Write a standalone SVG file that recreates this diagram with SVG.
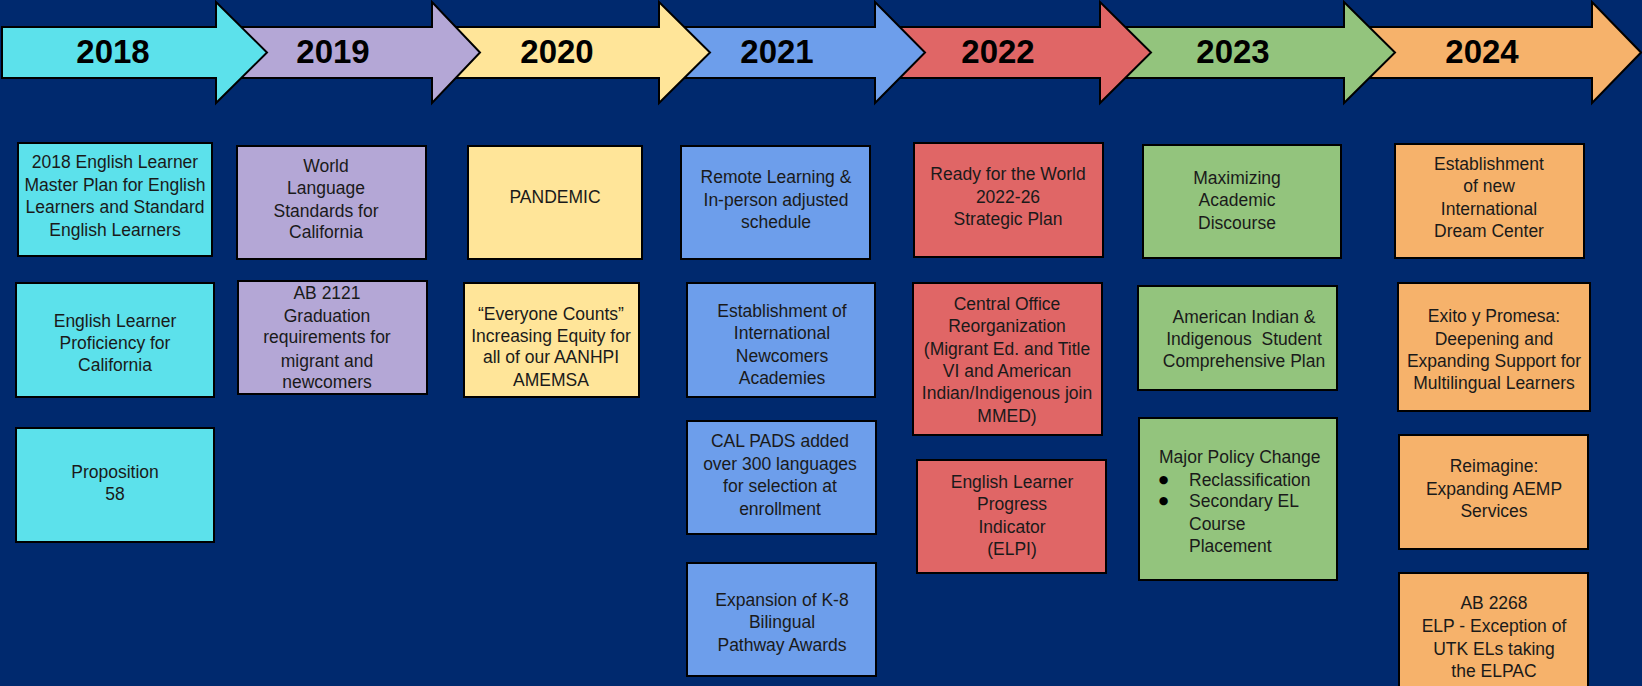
<svg xmlns="http://www.w3.org/2000/svg" width="1642" height="686" viewBox="0 0 1642 686">
<style>
.arrow{stroke:#000;stroke-width:2;stroke-linejoin:miter}
.year{font-family:"Liberation Sans",Arial,sans-serif;font-weight:bold;font-size:33px;fill:#000;text-anchor:middle}
.box{stroke:#000;stroke-width:2}
.t{font-family:"Liberation Sans",Arial,sans-serif;font-size:17.5px;fill:#1a1a1a;text-anchor:middle}
.tl{font-family:"Liberation Sans",Arial,sans-serif;font-size:17.5px;fill:#1a1a1a}
.bul{font-family:"DejaVu Sans",sans-serif;font-size:11px;fill:#000;text-anchor:middle}
.c18{fill:#5ce1eb}.c19{fill:#b4a7d6}.c20{fill:#ffe599}.c21{fill:#6d9eeb}.c22{fill:#e06666}.c23{fill:#93c47d}.c24{fill:#f6b26b}
</style>
<rect x="0" y="0" width="1642" height="686" fill="#00296e"/>
<g id="timeline">
<g id="arrow-2024"><polygon class="arrow c24" points="1344,27 1592,27 1592,2 1641,52.5 1592,103 1592,78 1344,78"/><text class="year" x="1482" y="63">2024</text></g>
<g id="arrow-2023"><polygon class="arrow c23" points="1100,27 1344,27 1344,2 1395,52.5 1344,103 1344,78 1100,78"/><text class="year" x="1233" y="63">2023</text></g>
<g id="arrow-2022"><polygon class="arrow c22" points="875,27 1100,27 1100,2 1151,52.5 1100,103 1100,78 875,78"/><text class="year" x="998" y="63">2022</text></g>
<g id="arrow-2021"><polygon class="arrow c21" points="659,27 875,27 875,2 925,52.5 875,103 875,78 659,78"/><text class="year" x="777" y="63">2021</text></g>
<g id="arrow-2020"><polygon class="arrow c20" points="432,27 659,27 659,2 710,52.5 659,103 659,78 432,78"/><text class="year" x="557" y="63">2020</text></g>
<g id="arrow-2019"><polygon class="arrow c19" points="216,27 432,27 432,2 480,52.5 432,103 432,78 216,78"/><text class="year" x="333" y="63">2019</text></g>
<g id="arrow-2018"><polygon class="arrow c18" points="2,27 216,27 216,2 267,52.5 216,103 216,78 2,78"/><text class="year" x="113" y="63">2018</text></g>
</g>

<g id="n2018-1"><rect class="box c18" x="18" y="143" width="194" height="113"/>
<text class="t" x="115"><tspan x="115" y="168">2018 English Learner</tspan><tspan x="115" y="191">Master Plan for English</tspan><tspan x="115" y="213">Learners and Standard</tspan><tspan x="115" y="236">English Learners</tspan></text></g>
<g id="n2018-2"><rect class="box c18" x="16" y="283" width="198" height="114"/>
<text class="t" x="115"><tspan x="115" y="327">English Learner</tspan><tspan x="115" y="349">Proficiency for</tspan><tspan x="115" y="371">California</tspan></text></g>
<g id="n2018-3"><rect class="box c18" x="16" y="428" width="198" height="114"/>
<text class="t" x="115"><tspan x="115" y="478">Proposition</tspan><tspan x="115" y="500">58</tspan></text></g>

<g id="n2019-1"><rect class="box c19" x="237" y="146" width="189" height="113"/>
<text class="t" x="326"><tspan x="326" y="172">World</tspan><tspan x="326" y="194">Language</tspan><tspan x="326" y="217">Standards for</tspan><tspan x="326" y="238">California</tspan></text></g>
<g id="n2019-2"><rect class="box c19" x="238" y="281" width="189" height="113"/>
<text class="t" x="327"><tspan x="327" y="299">AB 2121</tspan><tspan x="327" y="322">Graduation</tspan><tspan x="327" y="343">requirements for</tspan><tspan x="327" y="367">migrant and</tspan><tspan x="327" y="388">newcomers</tspan></text></g>

<g id="n2020-1"><rect class="box c20" x="468" y="146" width="174" height="113"/>
<text class="t" x="555" y="203">PANDEMIC</text></g>
<g id="n2020-2"><rect class="box c20" x="464" y="283" width="175" height="114"/>
<text class="t" x="551"><tspan x="551" y="320">“Everyone Counts”</tspan><tspan x="551" y="342">Increasing Equity for</tspan><tspan x="551" y="363">all of our AANHPI</tspan><tspan x="551" y="386">AMEMSA</tspan></text></g>

<g id="n2021-1"><rect class="box c21" x="681" y="146" width="189" height="113"/>
<text class="t" x="776"><tspan x="776" y="183">Remote Learning &amp;</tspan><tspan x="776" y="206">In-person adjusted</tspan><tspan x="776" y="228">schedule</tspan></text></g>
<g id="n2021-2"><rect class="box c21" x="687" y="283" width="188" height="114"/>
<text class="t" x="782"><tspan x="782" y="317">Establishment of</tspan><tspan x="782" y="339">International</tspan><tspan x="782" y="362">Newcomers</tspan><tspan x="782" y="384">Academies</tspan></text></g>
<g id="n2021-3"><rect class="box c21" x="687" y="421" width="189" height="113"/>
<text class="t" x="780"><tspan x="780" y="447">CAL PADS added</tspan><tspan x="780" y="470">over 300 languages</tspan><tspan x="780" y="492">for selection at</tspan><tspan x="780" y="515">enrollment</tspan></text></g>
<g id="n2021-4"><rect class="box c21" x="687" y="563" width="189" height="113"/>
<text class="t" x="782"><tspan x="782" y="606">Expansion of K-8</tspan><tspan x="782" y="628">Bilingual</tspan><tspan x="782" y="651">Pathway Awards</tspan></text></g>

<g id="n2022-1"><rect class="box c22" x="914" y="143" width="189" height="114"/>
<text class="t" x="1008"><tspan x="1008" y="180">Ready for the World</tspan><tspan x="1008" y="203">2022-26</tspan><tspan x="1008" y="225">Strategic Plan</tspan></text></g>
<g id="n2022-2"><rect class="box c22" x="913" y="283" width="189" height="152"/>
<text class="t" x="1007"><tspan x="1007" y="310">Central Office</tspan><tspan x="1007" y="332">Reorganization</tspan><tspan x="1007" y="355">(Migrant Ed. and Title</tspan><tspan x="1007" y="377">VI and American</tspan><tspan x="1007" y="399">Indian/Indigenous join</tspan><tspan x="1007" y="422">MMED)</tspan></text></g>
<g id="n2022-3"><rect class="box c22" x="917" y="460" width="189" height="113"/>
<text class="t" x="1012"><tspan x="1012" y="488">English Learner</tspan><tspan x="1012" y="510">Progress</tspan><tspan x="1012" y="533">Indicator</tspan><tspan x="1012" y="555">(ELPI)</tspan></text></g>

<g id="n2023-1"><rect class="box c23" x="1143" y="145" width="198" height="113"/>
<text class="t" x="1237"><tspan x="1237" y="184">Maximizing</tspan><tspan x="1237" y="206">Academic</tspan><tspan x="1237" y="229">Discourse</tspan></text></g>
<g id="n2023-2"><rect class="box c23" x="1138" y="286" width="199" height="104"/>
<text class="t" x="1244" style="white-space:pre"><tspan x="1244" y="323">American Indian &amp;</tspan><tspan x="1244" y="345">Indigenous  Student</tspan><tspan x="1244" y="367">Comprehensive Plan</tspan></text></g>
<g id="n2023-3"><rect class="box c23" x="1139" y="418" width="198" height="162"/>
<text class="tl" x="1159" y="463">Major Policy Change</text>
<text class="bul" x="1163.5" y="483">●</text>
<text class="tl" x="1189" y="486">Reclassification</text>
<text class="bul" x="1163.5" y="504">●</text>
<text class="tl"><tspan x="1189" y="507">Secondary EL</tspan><tspan x="1189" y="530">Course</tspan><tspan x="1189" y="552">Placement</tspan></text></g>

<g id="n2024-1"><rect class="box c24" x="1395" y="144" width="189" height="114"/>
<text class="t" x="1489"><tspan x="1489" y="170">Establishment</tspan><tspan x="1489" y="192">of new</tspan><tspan x="1489" y="215">International</tspan><tspan x="1489" y="237">Dream Center</tspan></text></g>
<g id="n2024-2"><rect class="box c24" x="1398" y="283" width="192" height="128"/>
<text class="t" x="1494"><tspan x="1494" y="322">Exito y Promesa:</tspan><tspan x="1494" y="345">Deepening and</tspan><tspan x="1494" y="367">Expanding Support for</tspan><tspan x="1494" y="389">Multilingual Learners</tspan></text></g>
<g id="n2024-3"><rect class="box c24" x="1399" y="435" width="189" height="114"/>
<text class="t" x="1494"><tspan x="1494" y="472">Reimagine:</tspan><tspan x="1494" y="495">Expanding AEMP</tspan><tspan x="1494" y="517">Services</tspan></text></g>
<g id="n2024-4"><rect class="box c24" x="1399" y="573" width="189" height="130"/>
<text class="t" x="1494"><tspan x="1494" y="609">AB 2268</tspan><tspan x="1494" y="632">ELP - Exception of</tspan><tspan x="1494" y="655">UTK ELs taking</tspan><tspan x="1494" y="677">the ELPAC</tspan></text></g>
<g id="connectors"/>
</svg>
